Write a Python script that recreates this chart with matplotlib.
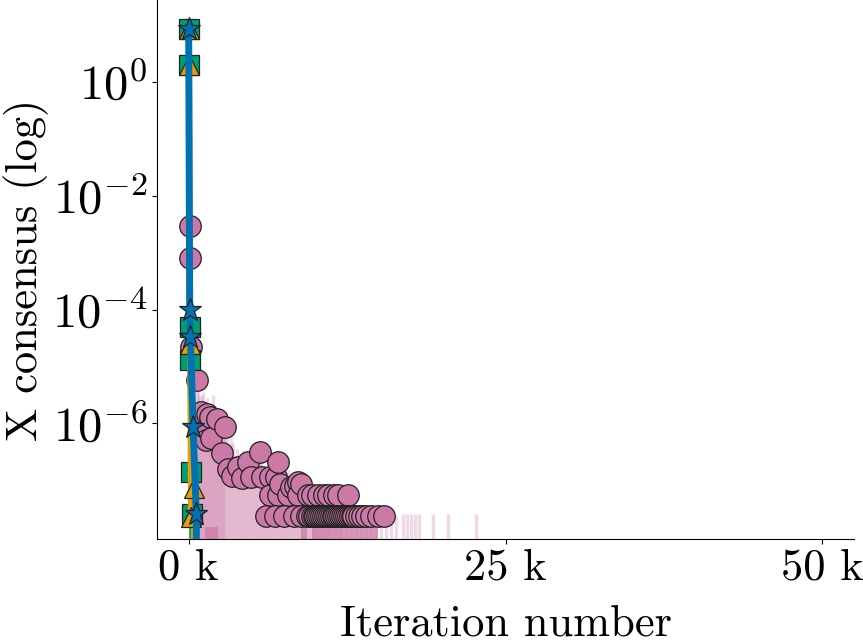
import matplotlib
matplotlib.use("Agg")
import matplotlib.pyplot as plt
from matplotlib.ticker import FuncFormatter, FixedLocator, NullLocator

plt.rcParams.update({
    "font.family": "serif",
    "font.serif": ["cmr10"],
    "mathtext.fontset": "cm",
    "axes.formatter.use_mathtext": True,
})

# ---------------- data ----------------
x_ticks = [0, 25000, 50000]
y_ticks = [1e0, 1e-2, 1e-4, 1e-6]
y_tick_labels = [r"$10^{0}$", r"$10^{-2}$", r"$10^{-4}$", r"$10^{-6}$"]

# pink (circles): initial descent
pink_head_x = [0, 70, 90, 200, 650]
pink_head_y = [9.0, 2.9e-3, 7.9e-4, 2.2e-5, 5.8e-6]

# pink circle markers
pink_mark_x = [70, 90, 200, 650, 1000, 1150, 1400, 1450, 1700, 1800, 2200, 2600,
               2850, 3100, 3400, 3900, 4200, 4700, 4950, 5600, 5750, 6400, 6400,
               6900, 7050, 7050, 7200, 7850, 8100, 8400, 8650, 8650, 8900, 9400,
               9700, 10200, 10700, 11000, 11500, 11800, 12600,
               6100, 6800, 7500, 8300, 8900, 9300, 9500, 9700, 9850, 10000, 10150,
               10300, 10450, 10600, 10750, 10900, 11050, 11200, 11350, 11500,
               11650, 11800, 11950, 12100, 12250, 12400, 12550, 12700, 12850,
               13000, 13200, 13450, 13700, 14000, 14400, 14900, 15400]
pink_mark_y = [2.9e-3, 7.9e-4, 2.2e-5, 5.8e-6, 1.6e-6, 6.2e-7, 5.1e-7, 1.45e-6,
               1.3e-6, 5.5e-7, 1.2e-6, 3.0e-7, 8.7e-7, 1.6e-7, 1.2e-7, 1.75e-7,
               1.1e-7, 2.1e-7, 1.15e-7, 3.2e-7, 1.15e-7, 1.15e-7, 5.5e-8,
               1.15e-7, 2.1e-7, 5.5e-8, 8.5e-8, 5.5e-8, 7.5e-8, 8.0e-8, 9.2e-8,
               5.5e-8, 8.5e-8, 5.5e-8, 5.5e-8, 5.5e-8, 5.5e-8, 5.5e-8, 5.5e-8,
               5.5e-8, 5.5e-8,
               2.4e-8, 2.4e-8, 2.4e-8, 2.4e-8, 2.4e-8, 2.4e-8, 2.4e-8, 2.4e-8,
               2.4e-8, 2.4e-8, 2.4e-8, 2.4e-8, 2.4e-8, 2.4e-8, 2.4e-8, 2.4e-8,
               2.4e-8, 2.4e-8, 2.4e-8, 2.4e-8, 2.4e-8, 2.4e-8, 2.4e-8, 2.4e-8,
               2.4e-8, 2.4e-8, 2.4e-8, 2.4e-8, 2.4e-8, 2.4e-8, 2.4e-8, 2.4e-8,
               2.4e-8, 2.4e-8, 2.4e-8, 2.4e-8, 2.4e-8]

# pink raw oscillations (faint): iteration and peak value, trough below axis
pink_spike_x = [690, 770, 845, 920, 1000, 1080, 1160, 1240, 1320, 1400, 1475, 1550,
                1630, 1710, 1790, 1870, 1950, 2030, 2110, 2190, 2260, 2340, 2420,
                2500, 2580, 2660, 2740, 2820, 2900, 3010, 3130, 3250, 3370, 3480,
                3600, 3720, 3840, 3960, 4080, 4200, 4310, 4430, 4550, 4670, 4790,
                4900, 5020, 5140, 5260, 5380, 5500, 5620, 5730, 5850, 5970, 6090,
                6210, 6330, 6450, 6570, 6680, 6800, 6920, 7040, 7150, 7270, 7390,
                7510, 7630, 7750, 7860, 7980, 8100, 8220, 8340, 8460, 8570, 8690,
                8810, 8930, 9050, 9170, 9280, 9400, 9520, 9640, 9760, 9880, 9990,
                10150, 10300, 10460, 10620, 10780, 10940, 11100, 11250, 11450,
                11650, 11850, 12040, 12440, 12830, 13230, 13620, 14010, 14410,
                14800, 15200, 15590, 15980, 16380, 16930, 17250, 17560, 17880,
                18200, 19300, 20480, 22690]
pink_spike_top = [5.7e-6, 4.0e-6, 3.1e-6, 1.9e-6, 2.5e-6, 3.0e-6, 3.5e-6, 2.2e-6,
                  1.7e-6, 1.3e-6, 2.8e-6, 2.0e-6, 1.13e-6, 1.6e-6, 2.1e-6, 9.0e-7,
                  3.1e-6, 1.5e-6, 7.6e-7, 1.0e-6, 1.4e-6, 6.5e-7, 1.8e-6, 1.1e-6,
                  5.0e-7, 4.2e-7, 1.2e-6, 7.0e-7, 9.3e-7, 5.5e-7, 4.1e-7, 3.0e-7,
                  6.2e-7, 4.5e-7, 2.7e-7, 2.0e-7, 3.6e-7, 2.8e-7, 2.2e-7, 1.7e-7,
                  3.4e-7, 2.5e-7, 1.5e-7, 1.3e-7, 2.4e-7, 2.0e-7, 1.8e-7, 1.2e-7,
                  1.5e-7, 2.2e-7, 3.6e-7, 4.0e-7, 5.0e-7, 1.8e-7, 1.5e-7, 9.0e-8,
                  1.1e-7, 1.3e-7, 1.5e-7, 7.5e-8, 8.2e-8, 1.0e-7, 1.2e-7, 8.0e-8,
                  6.7e-8, 1.2e-7, 1.0e-7, 6.0e-8, 5.4e-8, 9.0e-8, 1.5e-7, 1.1e-7,
                  8.2e-8, 5.0e-8, 4.5e-8, 7.0e-8, 6.7e-8, 4.0e-8, 3.6e-8, 6.0e-8,
                  5.4e-8, 8.0e-8, 1.0e-7, 3.5e-8, 4.5e-8, 4.0e-8, 3.0e-8, 2.8e-8,
                  3.6e-8, 3.2e-8, 2.7e-8, 2.6e-8, 3.2e-8, 2.9e-8, 2.7e-8, 2.6e-8,
                  3.0e-8, 2.8e-8, 2.4e-8, 2.6e-8, 2.7e-8, 2.4e-8, 2.4e-8, 2.4e-8,
                  2.5e-8, 2.4e-8, 2.5e-8, 2.4e-8, 2.4e-8, 2.4e-8, 2.6e-8, 2.5e-8,
                  2.6e-8, 2.6e-8, 2.6e-8, 2.6e-8, 2.6e-8, 2.6e-8, 2.6e-8, 2.6e-8]
pink_trough = 1e-10

# pink dense oscillation bands (stronger colour)
pink_band_start = [1250, 8900, 9750]
pink_band_end = [2350, 9300, 14900]
pink_band_top = [1.5e-8, 2.2e-8, 2.2e-8]

# green (squares)
green_x = [0, 30, 80, 120, 200, 250, 300]
green_y = [8.6, 2.0, 4.9e-5, 1.3e-5, 1.4e-7, 2.6e-8, 1e-10]

# orange (triangles)
orange_x = [0, 40, 110, 160, 390, 450]
orange_y = [8.6, 2.0, 2.5e-5, 2.3e-8, 7.2e-8, 1e-10]

# blue (stars)
blue_x = [0, 80, 135, 350, 600, 640]
blue_y = [8.6, 1.0e-4, 3.3e-5, 8.7e-7, 2.6e-8, 1e-10]

# ---------------- style ----------------
c_pink = "#CC79A7"
c_green = "#009E73"
c_orange = "#E69F00"
c_blue = "#0072B2"
edge = "#222222"

fig = plt.figure(figsize=(8.63, 6.44), dpi=100)
ax = fig.add_axes([157 / 863, 1 - 539 / 644, (854 - 157) / 863, 539 / 644])
ax.set_yscale("log")

# pink series
ax.vlines(pink_spike_x, pink_trough, pink_spike_top, color=c_pink, alpha=0.28,
          lw=2.4, zorder=1)
for s, e, t in zip(pink_band_start, pink_band_end, pink_band_top):
    ax.fill_between([s, e], [pink_trough, pink_trough], [t, t], color=c_pink,
                    alpha=0.75, lw=0, zorder=1)
ax.plot(pink_head_x, pink_head_y, color=c_pink, lw=2.5, alpha=0.7, zorder=1)
ax.plot(pink_mark_x, pink_mark_y, linestyle="none", marker="o", ms=15.5,
        mfc=c_pink, mec=edge, mew=0.9, zorder=2)

# green, orange, blue
ax.plot(green_x, green_y, color=c_green, lw=4, marker="s", ms=14.5, mfc=c_green,
        mec=edge, mew=0.9, zorder=3)
ax.plot(orange_x, orange_y, color=c_orange, lw=4, marker="^", ms=14.5,
        mfc=c_orange, mec=edge, mew=0.9, zorder=4)
ax.plot(blue_x, blue_y, color=c_blue, lw=5, marker="*", ms=17, mfc=c_blue,
        mec=edge, mew=0.9, zorder=5)

ax.set_xlim(-2500, 52500)
ax.set_ylim(10 ** -8.03, 10 ** 1.436)

ax.xaxis.set_major_locator(FixedLocator(x_ticks))
ax.xaxis.set_major_formatter(FuncFormatter(lambda v, p: f"{int(round(v / 1000))} k"))
ax.yaxis.set_major_locator(FixedLocator(y_ticks))
ax.set_yticklabels(y_tick_labels)
ax.yaxis.set_minor_locator(NullLocator())

ax.spines["top"].set_visible(False)
ax.spines["right"].set_visible(False)
ax.tick_params(axis="x", labelsize=32)
ax.tick_params(axis="y", labelsize=35)
ax.set_xlabel("Iteration number", fontsize=32, labelpad=11)
ax.set_ylabel("X consensus (log)", fontsize=32, labelpad=2)

fig.savefig("out.png", dpi=100)
